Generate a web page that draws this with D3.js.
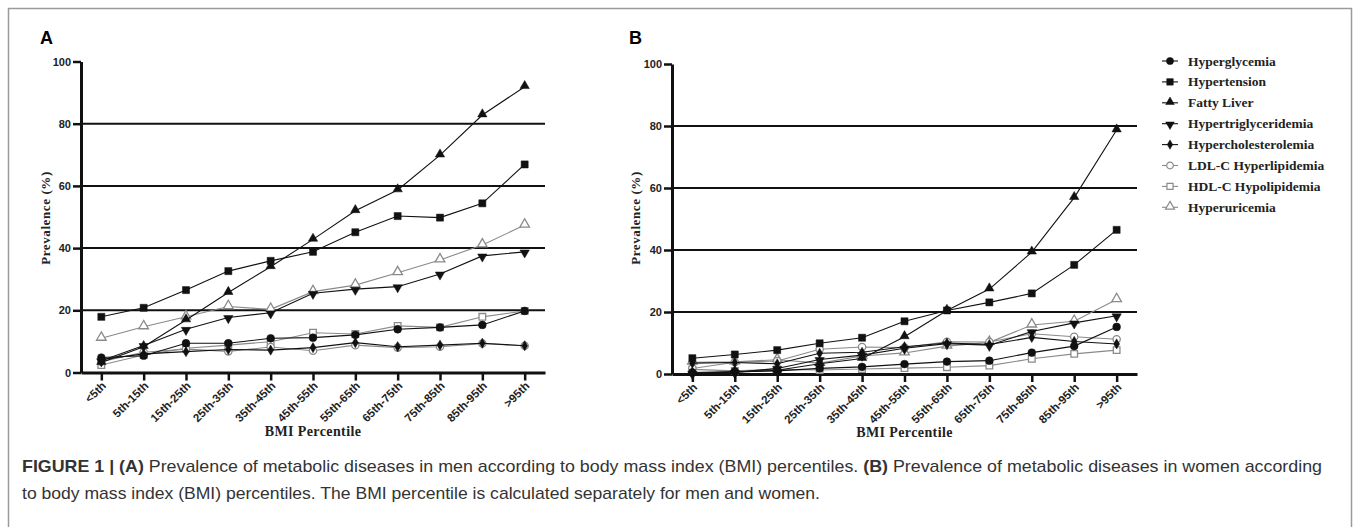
<!DOCTYPE html>
<html>
<head>
<meta charset="utf-8">
<script src="https://cdn.jsdelivr.net/npm/d3@7"></script>
<style>
  body { margin: 0; background: #fff; }
  .tick text { font-family: "Liberation Sans", Arial, sans-serif; }
</style>
</head>
<body>
<div id="chart"></div>
<script>
/* globals d3 */
const categories = ['<5th','5th-15th','15th-25th','25th-35th','35th-45th','45th-55th','55th-65th','65th-75th','75th-85th','85th-95th','>95th'];
const seriesNames = ['Hyperglycemia','Hypertension','Fatty Liver','Hypertriglyceridemia','Hypercholesterolemia','LDL-C Hyperlipidemia','HDL-C Hypolipidemia','Hyperuricemia'];
const yTicks = [0, 20, 40, 60, 80, 100];
const gridTicks = [20, 40, 60, 80];

// men (panel A)
const menHyperglycemia = [4.8, 5.4, 9.4, 9.4, 11.0, 11.2, 12.1, 13.9, 14.5, 15.3, 19.8];
const menHypertension = [17.9, 20.8, 26.5, 32.6, 35.9, 38.8, 45.1, 50.3, 49.8, 54.4, 66.9];
const menFattyLiver = [3.2, 8.3, 16.9, 25.7, 34.0, 42.8, 52.0, 58.7, 69.9, 82.8, 91.9];
const menHypertrig = [3.8, 8.7, 13.9, 17.7, 19.2, 25.5, 26.8, 27.6, 31.7, 37.5, 38.8];
const menHyperchol = [4.2, 6.0, 6.7, 7.4, 7.2, 8.0, 9.6, 8.3, 8.8, 9.4, 8.6];
const menLDL = [3.5, 6.5, 7.5, 6.8, 8.2, 7.0, 8.8, 8.0, 8.3, 9.3, 8.6];
const menHDL = [2.4, 5.6, 7.8, 8.8, 9.9, 12.8, 12.4, 15.0, 14.5, 17.9, 19.8];
const menHyperuric = [11.0, 14.7, 17.9, 21.2, 20.3, 26.0, 28.1, 32.1, 36.2, 41.0, 47.4];

// women (panel B)
const womenHyperglycemia = [0.5, 0.8, 1.0, 1.8, 2.3, 3.2, 4.0, 4.3, 6.9, 9.0, 15.2];
const womenHypertension = [5.1, 6.3, 7.7, 9.9, 11.7, 17.0, 20.5, 23.1, 26.0, 35.2, 46.5];
const womenFattyLiver = [0.3, 0.6, 1.2, 3.3, 5.0, 12.0, 20.5, 27.4, 39.3, 56.9, 78.7];
const womenHypertrig = [0.2, 0.5, 1.8, 4.7, 6.1, 8.3, 9.8, 9.3, 13.7, 16.5, 18.8];
const womenHyperchol = [3.5, 3.7, 3.3, 6.7, 7.0, 8.8, 10.0, 9.5, 11.8, 10.5, 9.7];
const womenLDL = [1.8, 3.8, 4.2, 8.0, 8.7, 8.5, 10.4, 10.3, 13.0, 12.0, 11.2];
const womenHDL = [1.5, 1.0, 1.5, 1.3, 1.6, 1.9, 2.2, 2.7, 4.9, 6.5, 7.7];
const womenHyperuric = [3.8, 3.9, 4.6, 3.5, 5.8, 6.8, 9.0, 10.2, 15.8, 17.0, 24.0];

const menSeries = [menHyperglycemia, menHypertension, menFattyLiver, menHypertrig, menHyperchol, menLDL, menHDL, menHyperuric];
const womenSeries = [womenHyperglycemia, womenHypertension, womenFattyLiver, womenHypertrig, womenHyperchol, womenLDL, womenHDL, womenHyperuric];

// marker look per series: symbol, filled or open
const styles = [
  {symbol: d3.symbolCircle, size: 48, open: false},
  {symbol: d3.symbolSquare, size: 50, open: false},
  {symbol: d3.symbolTriangle, size: 38, open: false, dy: -0.8},
  {symbol: d3.symbolTriangle, size: 38, open: false, rot: 180, dy: 0.8},
  {symbol: d3.symbolDiamond, size: 30, open: false},
  {symbol: d3.symbolCircle, size: 42, open: true},
  {symbol: d3.symbolSquare, size: 44, open: true},
  {symbol: d3.symbolTriangle, size: 40, open: true, dy: -0.8}
];
const darkLine = '#111';
const greyLine = '#8a8a8a';

const W = 1360, H = 527;
const svg = d3.select('#chart').append('svg')
    .attr('width', W).attr('height', H)
    .attr('xmlns', 'http://www.w3.org/2000/svg');

svg.append('rect')
    .attr('x', 8.5).attr('y', 8.5)
    .attr('width', 1343).attr('height', 540)
    .attr('fill', 'none').attr('stroke', '#9a9a9a').attr('stroke-width', 1.5);

function drawPanel(cfg){
    const x = d3.scalePoint().domain(categories).range([cfg.left, cfg.right]).padding(0.48);
    const y = d3.scaleLinear().domain([0, 100]).range([cfg.bottom, cfg.top]);
    const g = svg.append('g');

    g.append('text')
        .attr('x', cfg.labelX).attr('y', 44)
        .attr('font-family', '"Liberation Sans", Arial, sans-serif')
        .attr('font-weight', 'bold').attr('font-size', 18)
        .text(cfg.label);

    g.selectAll('line.grid').data(gridTicks).enter().append('line')
        .attr('class', 'grid')
        .attr('x1', cfg.left).attr('x2', cfg.right)
        .attr('y1', d => y(d)).attr('y2', d => y(d))
        .attr('stroke', '#111').attr('stroke-width', 2);

    const yAxis = g.append('g')
        .attr('transform', 'translate(' + cfg.left + ',0)')
        .call(d3.axisLeft(y).tickValues(yTicks).tickSize(8).tickSizeOuter(0).tickPadding(2));
    yAxis.select('.domain').attr('stroke', '#111').attr('stroke-width', 3);
    yAxis.selectAll('.tick line').attr('stroke', '#111').attr('stroke-width', 2.5);
    yAxis.selectAll('.tick text')
        .attr('font-size', 11).attr('font-weight', 'bold').attr('fill', '#222');

    const xAxis = g.append('g')
        .attr('transform', 'translate(0,' + cfg.bottom + ')')
        .call(d3.axisBottom(x).tickSize(8).tickSizeOuter(0));
    xAxis.select('.domain').attr('stroke', '#111').attr('stroke-width', 3);
    xAxis.selectAll('.tick line').attr('stroke', '#111').attr('stroke-width', 2.5);
    xAxis.selectAll('.tick text')
        .attr('font-family', '"Liberation Serif", "Times New Roman", serif')
        .attr('font-size', 11.5).attr('font-weight', 'bold').attr('fill', '#222')
        .attr('text-anchor', 'end')
        .attr('dy', null)
        .attr('transform', 'translate(5,14) rotate(-45)')
        .attr('y', 0).attr('x', 0);

    g.append('text')
        .attr('x', (cfg.left + cfg.right) / 2).attr('y', cfg.bottom + 63)
        .attr('text-anchor', 'middle')
        .attr('font-family', '"Liberation Serif", "Times New Roman", serif')
        .attr('font-weight', 'bold').attr('font-size', 14).attr('fill', '#222')
        .attr('letter-spacing', 0.4)
        .text('BMI Percentile');

    g.append('text')
        .attr('transform', 'translate(' + cfg.titleX + ',' + 218 + ') rotate(-90)')
        .attr('text-anchor', 'middle')
        .attr('font-family', '"Liberation Serif", "Times New Roman", serif')
        .attr('font-weight', 'bold').attr('font-size', 13).attr('fill', '#222')
        .attr('letter-spacing', 0.6)
        .text('Prevalence (%)');

    const line = d3.line().x((d, i) => x(categories[i])).y(d => y(d));
    // grey (open) series first, black ones on top
    const order = [7, 6, 5, 4, 3, 0, 2, 1];
    order.forEach(k => {
        const st = styles[k];
        const vals = cfg.series[k];
        const col = st.open ? greyLine : darkLine;
        g.append('path').datum(vals)
            .attr('d', line)
            .attr('fill', 'none').attr('stroke', col).attr('stroke-width', 1.1);
        g.selectAll(null).data(vals).enter().append('path')
            .attr('d', d3.symbol(st.symbol, st.size))
            .attr('transform', (d, i) => 'translate(' + x(categories[i]) + ',' + (y(d) + (st.dy || 0)) + ')' + (st.rot ? ' rotate(' + st.rot + ')' : ''))
            .attr('fill', st.open ? '#fff' : darkLine)
            .attr('stroke', col).attr('stroke-width', st.open ? 1.3 : 0.5);
    });
}

drawPanel({label: 'A', labelX: 40, left: 81, right: 545, top: 61.5, bottom: 372.5, titleX: 50, series: menSeries});
drawPanel({label: 'B', labelX: 629, left: 672, right: 1137, top: 64, bottom: 374, titleX: 640, series: womenSeries});

// legend
const legend = svg.append('g').attr('transform', 'translate(1170,61)');
seriesNames.forEach((name, k) => {
    const st = styles[k];
    const col = st.open ? greyLine : darkLine;
    const row = legend.append('g').attr('transform', 'translate(0,' + (k * 20.9) + ')');
    row.append('line').attr('x1', -8).attr('x2', 8).attr('y1', 0).attr('y2', 0)
        .attr('stroke', col).attr('stroke-width', 1.1);
    row.append('path')
        .attr('d', d3.symbol(st.symbol, st.size * 0.85))
        .attr('transform', 'translate(0,' + (st.dy || 0) + ')' + (st.rot ? ' rotate(' + st.rot + ')' : ''))
        .attr('fill', st.open ? '#fff' : darkLine)
        .attr('stroke', col).attr('stroke-width', st.open ? 1.2 : 0.5);
    row.append('text')
        .attr('x', 18).attr('y', 4.5)
        .attr('font-family', '"Liberation Serif", "Times New Roman", serif')
        .attr('font-weight', 'bold').attr('font-size', 13.5).attr('fill', '#222')
        .text(name);
});

// caption
const capFont = '"Liberation Sans Narrow", "Arial Narrow", "Liberation Sans", Arial, sans-serif';
const cap1 = svg.append('text')
    .attr('x', 22).attr('y', 472)
    .attr('font-family', capFont).attr('font-size', 17).attr('fill', '#333')
    .attr('textLength', 1300).attr('lengthAdjust', 'spacingAndGlyphs');
cap1.append('tspan').attr('font-weight', 'bold').text('FIGURE 1 | (A)');
cap1.append('tspan').text(' Prevalence of metabolic diseases in men according to body mass index (BMI) percentiles. ');
cap1.append('tspan').attr('font-weight', 'bold').text('(B)');
cap1.append('tspan').text(' Prevalence of metabolic diseases in women according');

svg.append('text')
    .attr('x', 22).attr('y', 499)
    .attr('font-family', capFont).attr('font-size', 17).attr('fill', '#333')
    .attr('textLength', 798).attr('lengthAdjust', 'spacingAndGlyphs')
    .text('to body mass index (BMI) percentiles. The BMI percentile is calculated separately for men and women.');
</script>
</body>
</html>
